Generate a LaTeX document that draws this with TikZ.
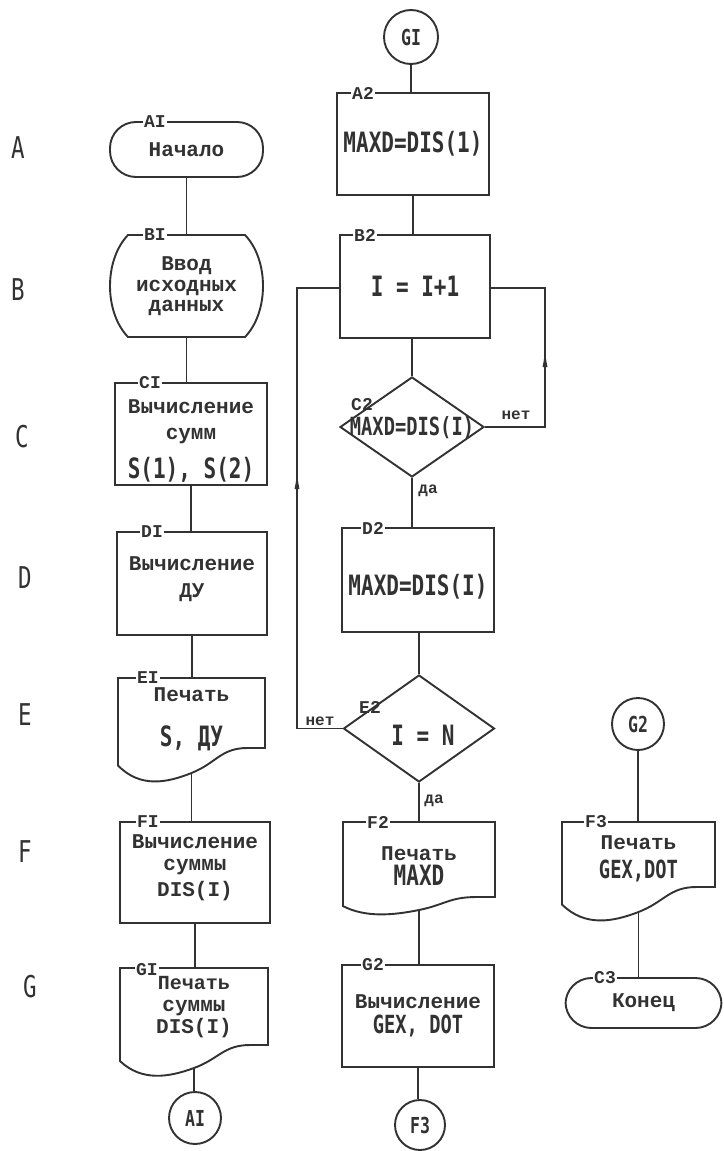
\documentclass[tikz,border=0pt]{standalone}
\usepackage{fontspec}
\usetikzlibrary{shapes.geometric,arrows.meta,decorations.markings,calc}
\newfontfamily\tw{Liberation Mono}
\newfontfamily\ff[FakeStretch=0.75]{DejaVu Sans Mono}
\definecolor{ink}{RGB}{50,50,50}
\newcommand\fml[1]{{\ff\bfseries\fontsize{28}{22}\selectfont #1}}
\newcommand\fmls[1]{{\ff\bfseries\fontsize{25}{22}\selectfont #1}}
% document (printout) symbol: name, L, T, R, S(bottom at centre), wave amplitude, text, text shift
\newcommand\docnode[8]{%
  \pgfmathsetmacro\dW{#4-#2}\pgfmathsetmacro\dH{#5-#3}%
  \pgfmathsetmacro\dX{(#2+#4)/2}\pgfmathsetmacro\dY{(#3+#5)/2}%
  \node[txt, minimum width=\dW pt, minimum height=\dH pt] (#1) at (\dX,\dY) {};%
  \node[txt] (#1t) at (\dX,{\dY+(#8)}) {#7};%
  \draw[ln] (#2,#3) -- (#4,#3) -- (#4,{#5-#6}) -- ({#4-0.12*\dW},{#5-#6})
    .. controls ({#4-0.3*\dW},{#5-#6}) and ({\dX+0.17*\dW},{#5-0.4*#6}) .. (\dX,#5)
    .. controls ({\dX-0.17*\dW},{#5+0.4*#6}) and ({#2+0.15*\dW},{#5+0.6*#6}) .. (#2,{#5-0.3*#6}) -- cycle;%
}
% process box with its text shifted down by #7 (pt, screen direction)
\newcommand\procnode[7]{%
  \node[box, minimum width=#4pt, minimum height=#5pt] (#1) at (#2,#3) {};%
  \node[txt] (#1t) at (#2,{#3+(#7)}) {#6};%
}
\begin{document}
\begin{tikzpicture}[x=1pt,y=-1pt,
  ln/.style={draw,color=ink,line width=1.9pt},
  txt/.style={font=\tw\bfseries\fontsize{21}{22}\selectfont,text=ink,align=center,inner sep=0pt},
  txtsm/.style={txt,font=\tw\bfseries\fontsize{20}{20}\selectfont},
  box/.style={ln,txt,rectangle},
  term/.style={box,rounded corners=26pt},
  circ/.style={ln,circle,inner sep=0pt,font=\ff\bfseries\fontsize{22}{22}\selectfont,text=ink},
  dia/.style={ln,diamond,inner sep=0pt},
  lbl/.style={fill=white,inner sep=1.5pt,font=\tw\bfseries\fontsize{18}{18}\selectfont,text=ink},
  lblfree/.style={inner sep=1pt,font=\tw\bfseries\fontsize{18}{18}\selectfont,text=ink},
  yn/.style={inner sep=1pt,font=\tw\bfseries\fontsize{16}{16}\selectfont,text=ink},
  rowl/.style={font=\ff\fontsize{30}{30}\selectfont,text=ink},
  upmark/.style={postaction={decorate},decoration={markings,mark=at position #1 with {\arrow{Latex[length=20pt,width=5pt]}}}}
]
\fill[white] (0,0) rectangle (723,1151);
\useasboundingbox (0,0) rectangle (723,1151);

% row letters
\node[rowl] (rA) at (18,148) {A};
\node[rowl] (rB) at (18,290) {B};
\node[rowl] (rC) at (22,437) {C};
\node[rowl] (rD) at (25,578) {D};
\node[rowl] (rE) at (25,715) {E};
\node[rowl] (rF) at (25,852) {F};
\node[rowl] (rG) at (30,987) {G};

% ---------- column 1
\node[term, minimum width=153pt, minimum height=55pt] (a1) at (186.5,149.5) {Начало};
\node[txt, minimum width=153pt, minimum height=102pt] (b1) at (186.5,286) {Ввод\\[-1pt]исходных\\[-2pt]данных};
\draw[ln] (128,235) -- (245,235) .. controls (269,260) and (269,312) .. (245,337) -- (128,337) .. controls (104,312) and (104,260) .. cycle;
\procnode{c1}{191}{434}{152}{102}{Вычисление\\[4pt]сумм\\[12pt]\fml{S(1), S(2)}}{7}
\procnode{d1}{192}{583.5}{150}{103}{Вычисление\\[5pt]ДУ}{-4}
\docnode{e1}{118}{678}{265}{773}{25}{Печать\\[23pt]\fml{S, ДУ}}{-6}
\procnode{f1}{195}{872.5}{150}{101}{Вычисление\\суммы\\[4pt]DIS(I)}{-5}
\docnode{g1}{120}{968}{268}{1068}{23}{\fontsize{20}{20}\selectfont Печать\\суммы\\DIS(I)}{-11}
\node[circ, minimum size=52pt] (ca1) at (195,1118) {AI};

% ---------- column 2
\node[circ, minimum size=54pt] (cg1) at (411,37) {GI};
\node[box, minimum width=152pt, minimum height=102pt] (a2) at (413,144) {\fml{MAXD=DIS(1)}};
\node[box, minimum width=150pt, minimum height=103pt] (b2) at (415,286.5) {\fml{I = I+1}};
\node[dia, minimum width=144pt, minimum height=100pt] (c2) at (412,427) {};
\node[txt] (c2t) at (412,428) {\fmls{MAXD=DIS(I)}};
\procnode{d2}{418}{580}{152}{104}{\fml{MAXD=DIS(I)}}{7}
\node[dia, minimum width=151pt, minimum height=107pt] (e2) at (419,728.5) {};
\node[txt] (e2t) at (423,735) {\fml{I = N}};
\docnode{f2}{343}{822}{495}{910}{13}{Печать\\[3pt]\fml{MAXD}}{0}
\node[box, minimum width=152pt, minimum height=102pt] (g2) at (418,1016) {Вычисление\\[3pt]\fmls{GEX, DOT}};
\node[circ, minimum size=50pt] (cf3) at (420,1125) {F3};

% ---------- column 3
\node[circ, minimum size=52pt] (cg2) at (638,724) {G2};
\docnode{f3}{562}{822}{715}{912}{25}{Печать\\[7pt]\fmls{GEX,DOT}}{-8}
\node[term, minimum width=156pt, minimum height=50pt] (c3) at (643.5,1003) {Конец};

% ---------- connectors
\draw[ln] (a1.south) -- (a1.south |- b1.north);
\draw[ln] (b1.south) -- (b1.south |- c1.north);
\draw[ln] (c1.south) -- (c1.south |- d1.north);
\draw[ln] (d1.south) -- (d1.south |- e1.north);
\draw[ln] (e1.south) -- (e1.south |- f1.north);
\draw[ln] (f1.south) -- (f1.south |- g1.north);
\draw[ln] (g1.south) -- (g1.south |- ca1.north);

\draw[ln] (cg1.south) -- (cg1.south |- a2.north);
\draw[ln] (a2.south) -- (a2.south |- b2.north);
\draw[ln] (b2.south -| c2.north) -- (c2.north);
\draw[ln] (c2.south) -- (c2.south |- d2.north);
\draw[ln] (d2.south -| e2.north) -- (e2.north);
\draw[ln] (e2.south) -- (e2.south |- f2.north);
\draw[ln] (f2.south) -- (f2.south |- g2.north);
\draw[ln] (g2.south) -- (g2.south |- cf3.north);

\draw[ln] (cg2.south) -- (cg2.south |- f3.north);
\draw[ln] (f3.south) -- (f3.south |- c3.north);

% loops
\coordinate (rr) at (545,288);
\coordinate (ll) at (297,288);
\draw[ln, upmark=140pt] (c2.east) -| (rr) -- (rr -| b2.east);
\draw[ln, upmark=305pt] (e2.west) -| (ll) -- (ll -| b2.west);

% block labels
\node[lbl] (la1) at (155,122) {AI};
\node[lbl] (lb1) at (155,235) {BI};
\node[lbl] (lc1) at (150,383) {CI};
\node[lbl] (ld1) at (152,532) {DI};
\node[lbl] (le1) at (148,678) {EI};
\node[lbl] (lf1) at (148,822) {FI};
\node[lbl] (lg1) at (147,970) {GI};
\node[lbl] (la2) at (363,93) {A2};
\node[lbl] (lb2) at (365,235) {B2};
\node[lblfree] (lc2) at (362,405) {C2};
\node[lbl] (ld2) at (373,528) {D2};
\node[lblfree] (le2) at (370,707) {E2};
\node[lbl] (lf2) at (378,822) {F2};
\node[lbl] (lg2) at (373,965) {G2};
\node[lbl] (lf3) at (596,822) {F3};
\node[lbl] (lc3) at (605,978) {C3};

% branch labels
\node[yn] (n1) at (516,415) {нет};
\node[yn] (y1) at (428,491) {да};
\node[yn] (n2) at (320,721) {нет};
\node[yn] (y2) at (434,801) {да};
\end{tikzpicture}
\end{document}
